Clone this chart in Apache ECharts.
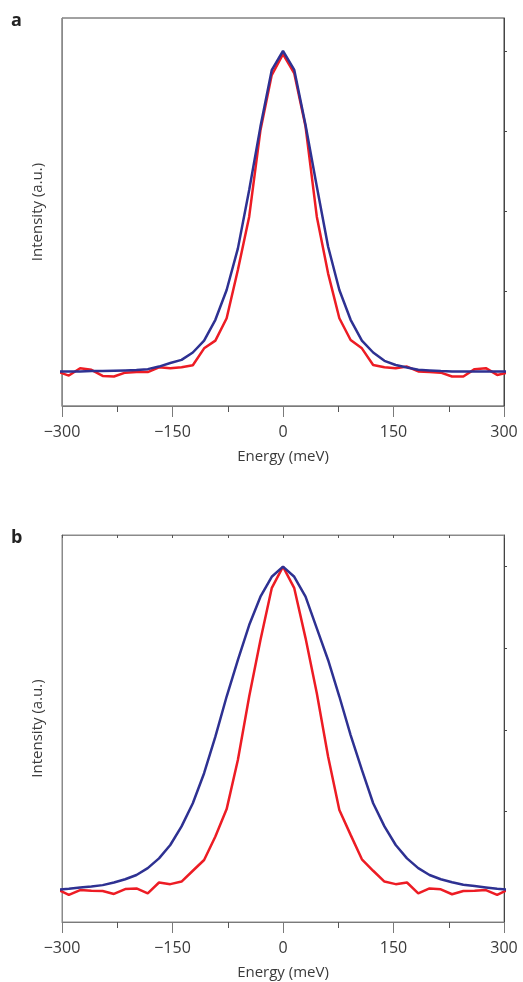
<!DOCTYPE html>
<html>
<head>
<meta charset="utf-8">
<script src="https://cdn.jsdelivr.net/npm/echarts@6/dist/echarts.min.js"></script>
<style>
    html, body { margin: 0; padding: 0; background: #fff; }
    #chart { width: 523px; height: 982px; }
</style>
</head>
<body>
<div id="chart"></div>
<script>
// energy points (meV), spacing ~15.3 meV; outer ones get clipped at +-300
const energy = [-306, -290.7, -275.4, -260.1, -244.8, -229.5, -214.2, -198.9, -183.6, -168.3,
    -153, -137.7, -122.4, -107.1, -91.8, -76.5, -61.2, -45.9, -30.6, -15.3,
    0,
    15.3, 30.6, 45.9, 61.2, 76.5, 91.8, 107.1, 122.4, 137.7,
    153, 168.3, 183.6, 198.9, 214.2, 229.5, 244.8, 260.1, 275.4, 290.7, 306];

// panel a
const redA = [-0.001, -0.013, 0.010, 0.005, -0.014, -0.016, -0.004, -0.002, -0.002, 0.013,
    0.010, 0.013, 0.019, 0.072, 0.096, 0.166, 0.317, 0.483, 0.753, 0.925,
    0.99,
    0.930, 0.764, 0.483, 0.306, 0.166, 0.098, 0.072, 0.020, 0.013,
    0.010, 0.015, 0.000, -0.002, -0.004, -0.016, -0.016, 0.007, 0.010, -0.011, -0.003];
const blueA = [0.000, 0.000, 0.000, 0.001, 0.001, 0.002, 0.003, 0.004, 0.007, 0.015,
    0.026, 0.036, 0.059, 0.096, 0.161, 0.254, 0.384, 0.566, 0.764, 0.940,
    1.0,
    0.941, 0.769, 0.577, 0.390, 0.254, 0.161, 0.096, 0.059, 0.033,
    0.020, 0.012, 0.005, 0.003, 0.001, 0.000, 0.000, 0.000, 0.000, 0.000, 0.000];

// panel b
const redB = [0.011, -0.006, 0.009, 0.007, 0.006, -0.003, 0.012, 0.014, -0.001, 0.032,
    0.027, 0.035, 0.068, 0.101, 0.173, 0.257, 0.408, 0.602, 0.775, 0.934,
    1.0,
    0.934, 0.781, 0.612, 0.418, 0.254, 0.178, 0.103, 0.068, 0.035,
    0.027, 0.032, -0.001, 0.014, 0.011, -0.004, 0.006, 0.007, 0.009, -0.006, 0.011];
const blueB = [0.010, 0.013, 0.017, 0.020, 0.024, 0.032, 0.042, 0.055, 0.076, 0.106,
    0.147, 0.204, 0.275, 0.367, 0.479, 0.602, 0.714, 0.821, 0.908, 0.969,
    1.0,
    0.969, 0.908, 0.811, 0.714, 0.602, 0.484, 0.377, 0.275, 0.204,
    0.147, 0.106, 0.076, 0.055, 0.042, 0.033, 0.025, 0.021, 0.017, 0.013, 0.010];

const xTickValues = [-300, -150, 0, 150, 300];
const rightTickValues = [0.25, 0.5, 0.75, 1.0];

const RED = '#ed1c24';
const BLUE = '#2e3192';
const FONT = '"Open Sans", "DejaVu Sans", sans-serif';

const pairs = (xs, ys) => xs.map((x, i) => [x, ys[i]]);
const minus = v => v < 0 ? '\u2212' + (-v) : String(v);

function bottomAxis(gridIndex) {
    return {
        type: 'value', gridIndex: gridIndex, position: 'bottom',
        min: -300, max: 300, interval: 150,
        axisLine: { show: true, onZero: false, lineStyle: { color: '#7a7a7a', width: 1 } },
        axisTick: { show: true, length: 11, lineStyle: { color: '#7a7a7a' },
            customValues: xTickValues },
        minorTick: { show: true, splitNumber: 2, length: 6, lineStyle: { color: '#555' } },
        axisLabel: { color: '#3a3a3a', fontSize: 16, fontFamily: FONT, margin: 18,
            formatter: minus, customValues: xTickValues, showMinLabel: true, showMaxLabel: true },
        splitLine: { show: false },
        name: 'Energy (meV)', nameLocation: 'middle', nameGap: 43,
        nameTextStyle: { color: '#3a3a3a', fontSize: 15, fontFamily: FONT }
    };
}

function leftAxis(gridIndex, min, max) {
    return {
        type: 'value', gridIndex: gridIndex, position: 'left', min: min, max: max,
        axisLine: { show: true, onZero: false, lineStyle: { color: '#8a8a8a' } },
        axisTick: { show: false }, axisLabel: { show: false }, splitLine: { show: false },
        name: 'Intensity (a.u.)', nameLocation: 'middle', nameGap: 17, nameRotate: 90,
        nameTextStyle: { color: '#3a3a3a', fontSize: 15, fontFamily: FONT }
    };
}

function rightAxis(gridIndex, min, max) {
    return {
        type: 'value', gridIndex: gridIndex, position: 'right', min: min, max: max,
        axisLine: { show: true, onZero: false, lineStyle: { color: '#444' } },
        axisTick: { show: true, length: 3, customValues: rightTickValues, lineStyle: { color: '#444' } },
        axisLabel: { show: false }, splitLine: { show: false }
    };
}

function line(name, data, color, xi, yi) {
    return {
        name: name, type: 'line', xAxisIndex: xi, yAxisIndex: yi,
        data: data, symbol: 'none', clip: true, silent: true,
        lineStyle: { color: color, width: 2.5 }
    };
}

const chart = echarts.init(document.getElementById('chart'), null, { renderer: 'canvas' });

chart.setOption({
    animation: false,
    backgroundColor: '#fff',
    grid: [
        { left: 62, top: 18, width: 442, height: 388, show: true, borderColor: '#444', borderWidth: 1 },
        { left: 62, top: 535, width: 442, height: 387, show: true, borderColor: '#8a8a8a', borderWidth: 1 }
    ],
    xAxis: [
        bottomAxis(0),
        bottomAxis(1),
        {
            type: 'value', gridIndex: 1, position: 'top', min: -300, max: 300, interval: 75,
            axisLine: { show: true, onZero: false, lineStyle: { color: '#8a8a8a' } },
            axisTick: { show: true, inside: true, length: 3, lineStyle: { color: '#555' } },
            axisLabel: { show: false }, splitLine: { show: false }
        }
    ],
    yAxis: [
        leftAxis(0, -0.108, 1.103),
        rightAxis(0, -0.108, 1.103),
        leftAxis(1, -0.089, 1.097),
        rightAxis(1, -0.089, 1.097)
    ],
    series: [
        line('a red', pairs(energy, redA), RED, 0, 0),
        line('a blue', pairs(energy, blueA), BLUE, 0, 0),
        line('b red', pairs(energy, redB), RED, 1, 2),
        line('b blue', pairs(energy, blueB), BLUE, 1, 2)
    ],
    graphic: [
        { type: 'text', left: 11, top: 12, style: { text: 'a', fontSize: 18, fontWeight: 'bold', fontFamily: FONT, fill: '#222' } },
        { type: 'text', left: 11, top: 529, style: { text: 'b', fontSize: 18, fontWeight: 'bold', fontFamily: FONT, fill: '#222' } }
    ]
});
</script>
</body>
</html>
